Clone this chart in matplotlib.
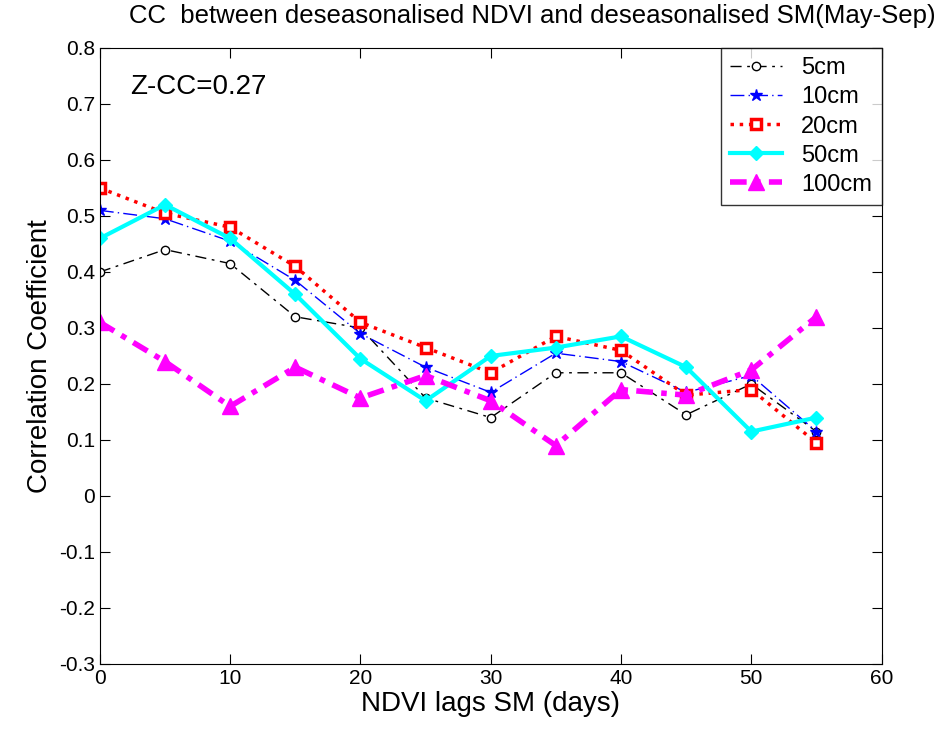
import matplotlib
matplotlib.use("Agg")
import matplotlib.pyplot as plt

# lag in days
lags = [0, 5, 10, 15, 20, 25, 30, 35, 40, 45, 50, 55]

cc_5cm = [0.40, 0.44, 0.415, 0.32, 0.30, 0.175, 0.14, 0.22, 0.22, 0.145, 0.20, 0.115]
cc_10cm = [0.51, 0.495, 0.455, 0.385, 0.29, 0.23, 0.185, 0.255, 0.24, 0.185, 0.215, 0.115]
cc_20cm = [0.55, 0.505, 0.48, 0.41, 0.31, 0.265, 0.22, 0.285, 0.26, 0.18, 0.19, 0.095]
cc_50cm = [0.46, 0.52, 0.46, 0.36, 0.245, 0.17, 0.25, 0.265, 0.285, 0.23, 0.115, 0.14]
cc_100cm = [0.31, 0.24, 0.16, 0.23, 0.175, 0.215, 0.17, 0.09, 0.19, 0.18, 0.225, 0.32]

plt.rcParams['font.family'] = ['Liberation Sans', 'DejaVu Sans']

fig = plt.figure(figsize=(9.51, 7.38), dpi=100)
ax = fig.add_axes([0.105, 0.1003, 0.822, 0.8347])

ax.plot(lags, cc_5cm, color='black', linestyle=(0, (8, 4, 2, 4)), linewidth=1,
        marker='o', markersize=6, markerfacecolor='white', label='5cm')
ax.plot(lags, cc_10cm, color='blue', linestyle=(0, (10, 3, 1, 3)), linewidth=1,
        marker='*', markersize=9, label='10cm')
ax.plot(lags, cc_20cm, color='red', linestyle=':', linewidth=2.5,
        marker='s', markersize=7, markerfacecolor='white', markeredgewidth=2.5, label='20cm')
ax.plot(lags, cc_50cm, color='cyan', linestyle='-', linewidth=3,
        marker='D', markersize=7, label='50cm')
ax.plot(lags, cc_100cm, color='magenta', linestyle=(0, (3, 1.5, 1, 1.5)), linewidth=4,
        marker='^', markersize=11, label='100cm')

ax.set_xlim(0, 60)
ax.set_ylim(-0.3, 0.8)
ax.set_xticks(range(0, 61, 10))
ax.set_yticks([-0.3, -0.2, -0.1, 0, 0.1, 0.2, 0.3, 0.4, 0.5, 0.6, 0.7, 0.8])
ax.set_yticklabels(['-0.3', '-0.2', '-0.1', '0', '0.1', '0.2', '0.3', '0.4', '0.5', '0.6', '0.7', '0.8'])
ax.tick_params(direction='in', top=True, right=True, labelsize=15, length=7)

ax.set_xlabel('NDVI lags SM (days)', fontsize=20, labelpad=2)
ax.set_ylabel('Correlation Coefficient', fontsize=20)
fig.text(0.56, 0.978, 'CC  between deseasonalised NDVI and deseasonalised SM(May-Sep)',
         fontsize=18.5, ha='center', va='center')
ax.text(2.3, 0.73, 'Z-CC=0.27', fontsize=20, va='center')

leg = ax.legend(loc='upper right', fontsize=17, frameon=True, fancybox=False,
                edgecolor='black', borderaxespad=0, handlelength=2.2, labelspacing=0.3,
                borderpad=0.4)
leg.get_frame().set_linewidth(1)

fig.savefig('out.png', dpi=100)
